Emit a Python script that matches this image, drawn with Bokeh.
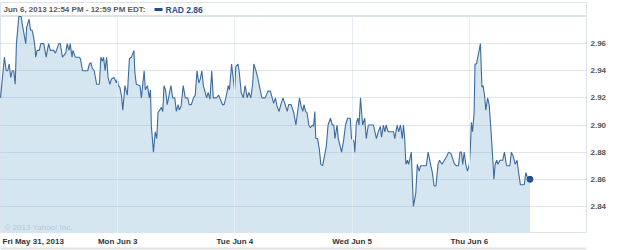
from bokeh.plotting import figure
from bokeh.layouts import column
from bokeh.models import FixedTicker, Label, NumeralTickFormatter, Range1d
from bokeh.core.properties import value
from bokeh.embed import file_html
from bokeh.resources import INLINE

# ---- data ----
session_minutes = 390
day_labels = ["Fri May 31, 2013", "Mon Jun 3", "Tue Jun 4", "Wed Jun 5", "Thu Jun 6"]
header_text = "Jun 6, 2013 12:54 PM - 12:59 PM EDT:"
series_label = "RAD 2.86"
copyright_text = "\u00a9 2013 Yahoo! Inc."
y_ticks = [2.84, 2.86, 2.88, 2.90, 2.92, 2.94, 2.96]
y_min, y_max = 2.82, 2.98

# trading minutes since Fri May 31 open (390 per session)
minutes = [
    0, 13, 19, 24, 29, 34, 39, 44, 49, 53, 61, 69, 72, 84, 87, 95, 100, 105, 110, 115,
    117, 122, 129, 134, 144, 152, 160, 166, 177, 183, 194, 199, 206, 217, 222, 228, 232,
    238, 241, 249, 261, 266, 273, 290, 296, 301, 305, 312, 320, 329, 334, 339, 343, 348,
    353, 358, 364, 369, 378, 386, 389,
    392, 397, 403, 407, 414, 422, 429, 436, 444, 447, 452, 464, 469, 478, 482, 489, 495,
    499, 502, 509, 515, 520, 524, 530, 535, 540, 544, 549, 555, 560, 567, 573, 580, 585,
    591, 595, 601, 608, 615, 623, 628, 635, 642, 648, 654, 660, 665, 670, 675, 681, 686,
    691, 697, 703, 708, 719, 726, 733, 739, 744, 750, 758, 762, 769, 772, 779,
    783, 790, 794, 801, 808, 814, 821, 826, 833, 839, 843, 850, 856, 863, 870, 881, 890,
    898, 904, 909, 915, 920, 927, 934, 940, 946, 954, 959, 967, 976, 983, 989, 995, 1000,
    1006, 1010, 1015, 1020, 1026, 1031, 1038, 1042, 1046, 1049, 1055, 1061, 1066, 1072,
    1078, 1084, 1090, 1098, 1104, 1109, 1113, 1120, 1124, 1135, 1142, 1148, 1155, 1164, 1168,
    1173, 1177, 1179, 1184, 1189, 1193, 1198, 1205, 1212, 1217, 1224, 1241, 1251, 1257,
    1264, 1268, 1274, 1279, 1283, 1290, 1308, 1312, 1320, 1325, 1331, 1337, 1341, 1345,
    1349, 1354, 1358, 1367, 1374, 1382, 1387, 1393, 1398, 1417, 1423, 1431, 1437, 1443,
    1449, 1456, 1461, 1469, 1477, 1485, 1491, 1499, 1505, 1511, 1518, 1524, 1529, 1534,
    1538, 1543, 1549, 1554,
    1560, 1563, 1567, 1571, 1576, 1579, 1584, 1591, 1597, 1602, 1606, 1611, 1615, 1621,
    1626, 1631, 1637, 1642, 1646, 1651, 1655, 1662, 1671, 1677, 1684, 1695, 1700, 1706,
    1713, 1719, 1724, 1730, 1743, 1748, 1755, 1762,
]
price = [
    2.920, 2.950, 2.940, 2.940, 2.945, 2.935, 2.940, 2.940, 2.930, 2.960, 2.980, 2.980,
    2.975, 2.960, 2.972, 2.978, 2.970, 2.970, 2.965, 2.957, 2.950, 2.955, 2.955, 2.960,
    2.960, 2.950, 2.960, 2.955, 2.955, 2.953, 2.960, 2.960, 2.950, 2.953, 2.960, 2.955,
    2.960, 2.950, 2.955, 2.950, 2.950, 2.949, 2.940, 2.940, 2.945, 2.946, 2.942, 2.940,
    2.930, 2.930, 2.950, 2.947, 2.950, 2.940, 2.950, 2.935, 2.930, 2.934, 2.935, 2.931, 2.934,
    2.929, 2.928, 2.921, 2.911, 2.929, 2.922, 2.949, 2.950, 2.955, 2.939, 2.930, 2.929,
    2.920, 2.940, 2.926, 2.929, 2.920, 2.926, 2.899, 2.880, 2.895, 2.890, 2.909, 2.911,
    2.913, 2.910, 2.929, 2.926, 2.915, 2.921, 2.929, 2.920, 2.920, 2.910, 2.915, 2.911,
    2.914, 2.929, 2.920, 2.920, 2.915, 2.915, 2.920, 2.922, 2.940, 2.931, 2.934, 2.940,
    2.929, 2.924, 2.920, 2.924, 2.919, 2.940, 2.920, 2.920, 2.922, 2.918, 2.915, 2.915,
    2.920, 2.929, 2.926, 2.945, 2.939, 2.926,
    2.943, 2.945, 2.940, 2.924, 2.920, 2.929, 2.920, 2.924, 2.920, 2.930, 2.945, 2.940,
    2.935, 2.927, 2.920, 2.920, 2.925, 2.925, 2.920, 2.916, 2.920, 2.914, 2.910, 2.916,
    2.920, 2.916, 2.910, 2.915, 2.915, 2.909, 2.900, 2.910, 2.920, 2.914, 2.910, 2.915,
    2.910, 2.909, 2.900, 2.898, 2.900, 2.899, 2.910, 2.890, 2.890, 2.882, 2.871, 2.870,
    2.877, 2.884, 2.900, 2.905, 2.900, 2.900, 2.890, 2.900, 2.890, 2.880, 2.889, 2.900,
    2.905, 2.905, 2.890,
    2.889, 2.887, 2.880, 2.901, 2.905, 2.900, 2.920, 2.900, 2.905, 2.890, 2.900, 2.900,
    2.890, 2.895, 2.899, 2.891, 2.900, 2.895, 2.900, 2.895, 2.895, 2.890, 2.900, 2.895,
    2.900, 2.890, 2.900, 2.890, 2.871, 2.874, 2.871, 2.880, 2.840, 2.850, 2.871, 2.866,
    2.870, 2.870, 2.880, 2.871, 2.865, 2.855, 2.855, 2.871, 2.874, 2.871, 2.874, 2.877,
    2.880, 2.879, 2.875, 2.871, 2.870, 2.870, 2.880, 2.880, 2.871, 2.880, 2.870, 2.866,
    2.871, 2.880, 2.902, 2.895, 2.909, 2.945, 2.945, 2.953, 2.960, 2.928, 2.929, 2.921,
    2.911, 2.920, 2.915, 2.900, 2.879, 2.860, 2.871, 2.874, 2.871, 2.874, 2.874, 2.880,
    2.870, 2.870, 2.880, 2.877, 2.871, 2.874, 2.865, 2.856, 2.856, 2.865, 2.860, 2.860,
]

FONT = "Liberation Sans"
BORDER = "#dce3ea"
n_days = len(day_labels)
day_starts = [i * session_minutes for i in range(n_days)]
x_rng = Range1d(0, n_days * session_minutes)

def base(height, **kw):
    f = figure(width=625, height=height, output_backend="svg", toolbar_location=None,
               x_axis_location=None, y_axis_location=None,
               min_border_left=0, min_border_right=39, **kw)
    f.background_fill_color = "white"
    f.border_fill_color = "white"
    f.xgrid.visible = False
    f.ygrid.visible = False
    return f

# ---- header strip ----
hdr = base(16, x_range=Range1d(0, 586), y_range=Range1d(14, 0),
           min_border_top=2, min_border_bottom=0)
hdr.outline_line_color = BORDER
hdr.text(x=[3], y=[7], text=[header_text], text_align="left", text_baseline="middle",
         text_font=value(FONT), text_font_style="bold", text_font_size="8px",
         text_color="#5a5a5a")
hdr.quad(left=[154], right=[162], top=[5.5], bottom=[8.5], fill_color="#1f4e8c",
         line_color=None)
hdr.text(x=[165], y=[7], text=[series_label], text_align="left", text_baseline="middle",
         text_font=value(FONT), text_font_style="bold", text_font_size="8.5px",
         text_color="#1f4e8c")

# ---- main chart ----
p = figure(width=625, height=217, x_range=x_rng, y_range=(y_min, y_max),
           x_axis_location=None, y_axis_location="right",
           output_backend="svg", toolbar_location=None,
           min_border_left=0, min_border_top=0, min_border_bottom=0,
           min_border_right=39)
p.background_fill_color = "white"
p.border_fill_color = "white"
p.outline_line_color = BORDER

p.varea(x=minutes, y1=y_min, y2=price, fill_color="#d6e6f1")

p.xgrid.ticker = FixedTicker(ticks=day_starts[1:])
p.xgrid.grid_line_color = "#e6eef4"
p.xgrid.level = "overlay"
p.ygrid.ticker = FixedTicker(ticks=y_ticks)
p.ygrid.grid_line_color = "#6f97b8"
p.ygrid.grid_line_alpha = 0.22
p.ygrid.level = "overlay"

ln = p.line(x=minutes, y=price, line_color="#3d6b9e", line_width=1.1)
ln.level = "overlay"
dot = p.scatter(x=[minutes[-1]], y=[price[-1]], size=6, color="#1f4e8c")
dot.level = "overlay"

ya = p.yaxis[0]
ya.ticker = FixedTicker(ticks=y_ticks)
ya.formatter = NumeralTickFormatter(format="0.00")
ya.axis_line_color = None
ya.major_tick_line_color = None
ya.minor_tick_line_color = None
ya.major_tick_out = 0
ya.major_tick_in = 0
ya.major_label_standoff = 4
ya.major_label_text_font = FONT
ya.major_label_text_font_style = "bold"
ya.major_label_text_font_size = "8px"
ya.major_label_text_color = "#555555"

p.add_layout(Label(x=day_starts[0], y=y_min, x_offset=4, y_offset=6, text=copyright_text,
                   text_align="left", text_baseline="middle",
                   text_font=FONT, text_font_size="8px", text_color="#b3c9dc"))

# ---- footer with day labels (shares the time scale) ----
ftr = base(17, x_range=x_rng, y_range=Range1d(17, 0),
           min_border_top=0, min_border_bottom=0)
ftr.outline_line_color = None
aligns = ["left"] + ["center"] * (n_days - 1)
ftr.text(x=day_starts, y=[8] * n_days, text=day_labels, x_offset=[2] + [0] * (n_days - 1),
         text_align=aligns, text_baseline="middle",
         text_font=value(FONT), text_font_style="bold", text_font_size="8px",
         text_color="#333333")
ftr.line(x=[0, n_days * session_minutes], y=[15, 15], line_color="#e2e2e2", line_width=2)

layout = column(hdr, p, ftr, spacing=0)
open("out.html", "w").write(file_html(layout, INLINE))
